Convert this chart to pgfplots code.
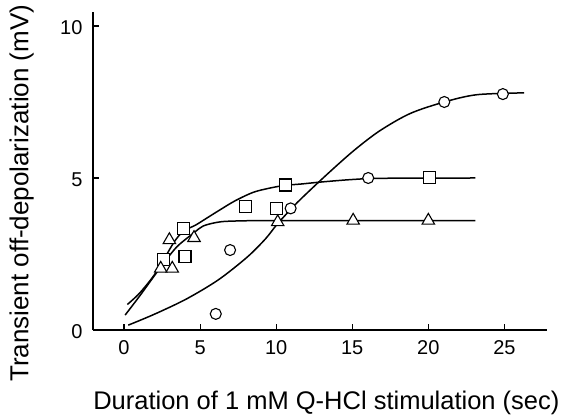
\documentclass[border=0pt]{standalone}
\usepackage{fontspec}
\setmainfont{Liberation Sans}
\usepackage{pgfplots}
\pgfplotsset{compat=1.18}
\begin{document}
\begin{tikzpicture}
\begin{axis}[
  scale only axis, width=454pt, height=318pt,
  xmin=-2.04, xmax=27.8, ymin=0, ymax=10.46,
  axis x line*=bottom, axis y line*=left,
  axis line style={line width=1.1pt, -},
  xtick={0,5,10,15,20,25}, ytick={0,5,10},
  tick align=inside, major tick length=6pt,
  tick style={line width=1.1pt, black},
  /pgf/number format/assume math mode=true,
  ticklabel style={font=\fontsize{20}{20}\selectfont},
  xticklabel style={yshift=-7pt},
  yticklabel style={xshift=-7pt, yshift=-1.5pt},
  xlabel={Duration of 1 mM Q-HCl stimulation (sec)},
  ylabel={Transient off-depolarization (mV)},
  every axis x label/.style={at={(axis description cs:0.514,-0.2494)}, anchor=base, font=\fontsize{25.5}{25.5}\selectfont},
  every axis y label/.style={at={(axis description cs:-0.1425,0.43)}, rotate=90, anchor=base, font=\fontsize{26}{26}\selectfont},
  clip=false,
]
% circle curve
\addplot[smooth, tension=0.5, line width=1.5pt, black] coordinates {
(0.28,0.16) (2,0.52) (4.1,1.02) (6.2,1.65) (8.1,2.4) (9.3,3.0) (10.1,3.5) (11.4,4.2) (13.3,5.1) (15.1,5.9) (16.8,6.55) (18.8,7.12) (21.05,7.5) (23.2,7.74) (26.3,7.8)};
% square curve
\addplot[smooth, tension=0.5, line width=1.5pt, black] coordinates {
(0.22,0.84) (1.0,1.2) (1.9,1.75) (2.59,2.3) (3.3,2.9) (3.9,3.25) (4.7,3.45) (5.5,3.7) (6.3,3.95) (7.3,4.25) (8.5,4.53) (9.6,4.67) (10.6,4.76) (11.6,4.8) (13,4.87) (15,4.95) (17,4.99) (23.1,5.0)};
% triangle curve
\addplot[smooth, tension=0.5, line width=1.5pt, black] coordinates {
(0.07,0.49) (1.0,1.1) (1.9,1.72) (2.6,2.2) (3.5,2.75) (4.6,3.2) (5.2,3.42) (6.1,3.54) (7,3.58) (10,3.6) (23.1,3.6)};
% markers
\addplot[only marks, mark=*, mark size=5.5pt, mark options={fill=white, draw=black, line width=1.1pt}] coordinates {
(6.03,0.53) (6.97,2.63) (10.95,4.0) (16.05,5.0) (21.05,7.5) (24.9,7.76)};
\addplot[only marks, mark=square*, mark size=6pt, mark options={fill=white, draw=black, line width=1.1pt}] coordinates {
(2.59,2.33) (3.9,3.35) (4.01,2.41) (7.96,4.05) (10.0,4.0) (10.6,4.77) (20.07,5.03)};
\addplot[only marks, mark=triangle*, mark size=7.2pt, mark options={fill=white, draw=black, line width=1.1pt}] coordinates {
(2.41,2.02) (3.17,2.02) (2.98,2.96) (4.6,3.03) (10.1,3.55) (15.06,3.6) (20.0,3.6)};
\end{axis}
\pgfresetboundingbox
\path (-93pt,-88pt) rectangle (470pt,330pt);
\end{tikzpicture}
\end{document}
